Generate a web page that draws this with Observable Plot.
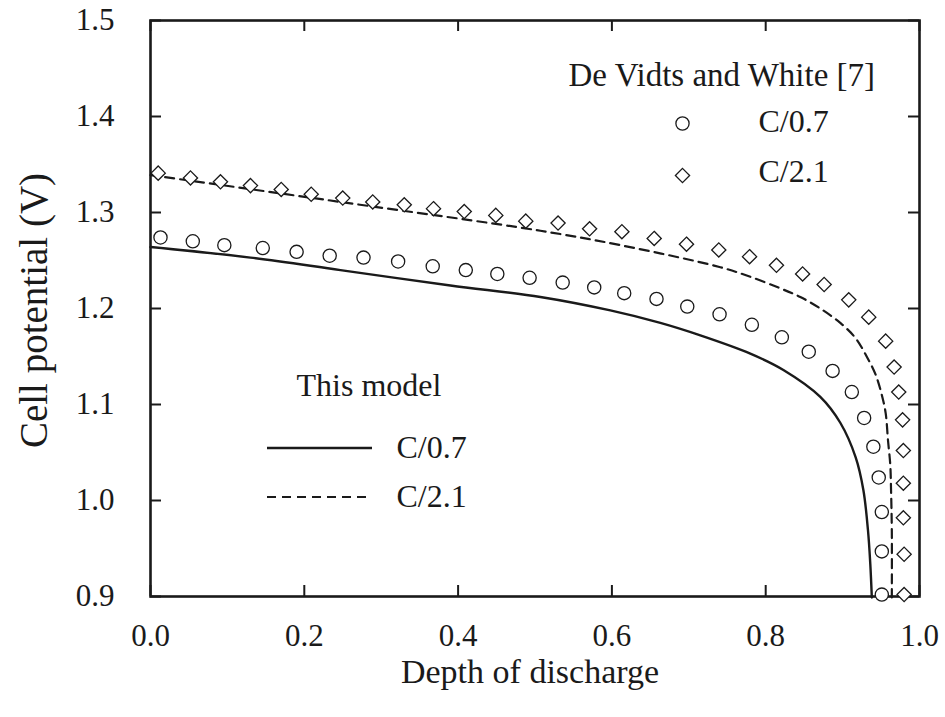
<!DOCTYPE html>
<html>
<head>
<meta charset="utf-8">
<script src="https://cdn.jsdelivr.net/npm/d3@7"></script>
<script src="https://cdn.jsdelivr.net/npm/@observablehq/plot@0.6"></script>
<style>
  body { margin: 0; background: #fff; }
  #chart svg { display: block; }
  #chart svg, #chart svg text { font-family: "Liberation Serif", "Times New Roman", serif !important; font-variant: normal !important; }
</style>
</head>
<body>
<div id="chart"></div>
<script>
// ---- Data ----
const xTicks = [0, 0.2, 0.4, 0.6, 0.8, 1.0];
const yTicks = [0.9, 1.0, 1.1, 1.2, 1.3, 1.4, 1.5];

// This model, C/0.7 (solid)
const modelC07Depth = [0, 0.130, 0.247, 0.390, 0.507, 0.598, 0.663, 0.715, 0.780, 0.823, 0.871, 0.897, 0.917, 0.927, 0.933, 0.936, 0.938];
const modelC07Volt  = [1.264, 1.253, 1.240, 1.224, 1.212, 1.198, 1.185, 1.172, 1.153, 1.136, 1.108, 1.081, 1.045, 1.011, 0.969, 0.934, 0.899];

// This model, C/2.1 (dashed)
const modelC21Depth = [0, 0.247, 0.507, 0.611, 0.741, 0.780, 0.819, 0.845, 0.871, 0.897, 0.917, 0.932, 0.943, 0.951, 0.956, 0.959, 0.962, 0.963, 0.964, 0.964];
const modelC21Volt  = [1.339, 1.311, 1.281, 1.266, 1.243, 1.233, 1.221, 1.212, 1.200, 1.185, 1.169, 1.149, 1.131, 1.110, 1.091, 1.063, 1.037, 1.011, 0.969, 0.899];

// De Vidts and White [7], C/0.7 (circles)
const expC07Depth = [0.013, 0.055, 0.096, 0.146, 0.190, 0.233, 0.277, 0.322, 0.367, 0.410, 0.451, 0.493, 0.536, 0.577, 0.616, 0.658, 0.698, 0.740, 0.782, 0.821, 0.856, 0.887, 0.912, 0.928, 0.940, 0.947, 0.951, 0.951, 0.951];
const expC07Volt  = [1.274, 1.270, 1.266, 1.263, 1.259, 1.255, 1.253, 1.249, 1.244, 1.240, 1.236, 1.232, 1.227, 1.222, 1.216, 1.210, 1.202, 1.194, 1.183, 1.170, 1.155, 1.135, 1.113, 1.086, 1.056, 1.024, 0.988, 0.947, 0.902];

// De Vidts and White [7], C/2.1 (diamonds)
const expC21Depth = [0.010, 0.052, 0.091, 0.130, 0.170, 0.209, 0.250, 0.289, 0.330, 0.368, 0.408, 0.449, 0.488, 0.530, 0.571, 0.613, 0.655, 0.697, 0.739, 0.779, 0.814, 0.848, 0.876, 0.908, 0.934, 0.956, 0.967, 0.973, 0.978, 0.979, 0.979, 0.979, 0.980, 0.980];
const expC21Volt  = [1.341, 1.336, 1.332, 1.328, 1.324, 1.319, 1.315, 1.311, 1.308, 1.304, 1.301, 1.297, 1.291, 1.289, 1.283, 1.280, 1.273, 1.267, 1.261, 1.254, 1.245, 1.236, 1.225, 1.209, 1.191, 1.166, 1.139, 1.113, 1.084, 1.052, 1.018, 0.982, 0.944, 0.902];

const toRows = (xs, ys) => xs.map((x, i) => ({x, y: ys[i]}));
const modelC07 = toRows(modelC07Depth, modelC07Volt);
const modelC21 = toRows(modelC21Depth, modelC21Volt);
const expC07 = toRows(expC07Depth, expC07Volt);
const expC21 = toRows(expC21Depth, expC21Volt);

// ---- Layout ----
const W = 945, H = 717;
const mL = 150, mR = 26, mT = 20, mB = 121;
const fw = W - mL - mR, fh = H - mT - mB;
const tickLen = 11;
const ink = "#1a1a1a";
const font = "Liberation Serif";
const legendSize = 32;
const lg = {frameAnchor: "top-left", textAnchor: "start", lineAnchor: "middle", fontSize: legendSize, fill: ink, fontFamily: font};
const fmt = d3.format(".1f");

const chart = Plot.plot({
  width: W,
  height: H,
  marginLeft: mL, marginRight: mR, marginTop: mT, marginBottom: mB,
  style: {fontFamily: font, fontSize: "31px", color: ink, background: "#fff"},
  x: {domain: [0, 1], label: null},
  y: {domain: [0.9, 1.5], label: null},
  marks: [
    Plot.axisX({ticks: xTicks, tickSize: 0, tickPadding: 27, tickFormat: fmt, fontSize: 31, fontFamily: font, fill: ink, label: null}),
    Plot.axisY({ticks: yTicks, tickSize: 0, tickPadding: 36, tickFormat: fmt, fontSize: 31, fontFamily: font, fill: ink, label: null}),
    // inward ticks on all four sides
    Plot.ruleX(xTicks, {x: d => d, insetTop: fh - tickLen, stroke: ink, strokeWidth: 2}),
    Plot.ruleX(xTicks, {x: d => d, insetBottom: fh - tickLen, stroke: ink, strokeWidth: 2}),
    Plot.ruleY(yTicks, {y: d => d, insetRight: fw - tickLen, stroke: ink, strokeWidth: 2}),
    Plot.ruleY(yTicks, {y: d => d, insetLeft: fw - tickLen, stroke: ink, strokeWidth: 2}),
    Plot.frame({stroke: ink, strokeWidth: 2.6}),
    // model curves
    Plot.line(modelC07, {x: "x", y: "y", stroke: ink, strokeWidth: 2.4, curve: "catmull-rom"}),
    Plot.line(modelC21, {x: "x", y: "y", stroke: ink, strokeWidth: 2.2, strokeDasharray: "9,6", curve: "catmull-rom"}),
    // experimental points
    Plot.dot(expC07, {x: "x", y: "y", r: 6.6, symbol: "circle", stroke: ink, strokeWidth: 1.3, fill: "white"}),
    Plot.dot(expC21, {x: "x", y: "y", r: 6.4, symbol: "diamond2", stroke: ink, strokeWidth: 1.3, fill: "white"}),
    // axis titles
    Plot.text(["Depth of discharge"], {frameAnchor: "bottom", textAnchor: "middle", lineAnchor: "middle", dy: 76, dx: -5, fontSize: 34, fill: ink, fontFamily: font}),
    Plot.text(["Cell potential (V)"], {frameAnchor: "left", textAnchor: "middle", lineAnchor: "middle", dx: -116, dy: 2, rotate: -90, fontSize: 39, fill: ink, fontFamily: font}),
    // legend: experimental data
    Plot.text(["De Vidts and White [7]"], {...lg, fontSize: 33, dx: 418, dy: 55}),
    Plot.dot([0], {frameAnchor: "top-left", dx: 532, dy: 103, r: 6.6, symbol: "circle", stroke: ink, strokeWidth: 1.3, fill: "white"}),
    Plot.text(["C/0.7"], {...lg, dx: 608, dy: 101}),
    Plot.dot([0], {frameAnchor: "top-left", dx: 532, dy: 155, r: 6.4, symbol: "diamond2", stroke: ink, strokeWidth: 1.3, fill: "white"}),
    Plot.text(["C/2.1"], {...lg, dx: 608, dy: 151}),
    // legend: this model
    Plot.text(["This model"], {...lg, dx: 146, dy: 365}),
    Plot.text(["C/0.7"], {...lg, dx: 246, dy: 427}),
    Plot.text(["C/2.1"], {...lg, dx: 246, dy: 476})
  ]
});

// legend line samples
const svg = d3.select(chart);
const samples = [
  {y: mT + 428, dash: null, w: 2.4},
  {y: mT + 477, dash: "9,6", w: 2.2}
];
for (const s of samples) {
  svg.append("line")
    .attr("x1", mL + 117).attr("x2", mL + 222)
    .attr("y1", s.y).attr("y2", s.y)
    .attr("stroke", ink).attr("stroke-width", s.w)
    .attr("stroke-dasharray", s.dash);
}

document.getElementById("chart").appendChild(chart);
</script>
</body>
</html>
